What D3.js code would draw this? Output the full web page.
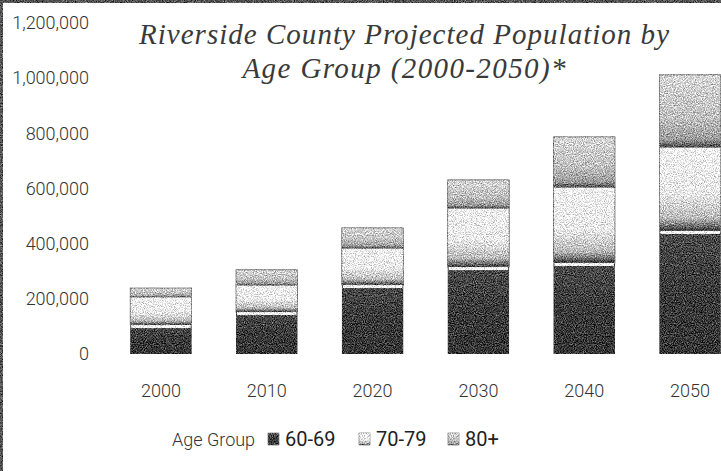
<!DOCTYPE html>
<html>
<head>
<meta charset="utf-8">
<script src="https://cdn.jsdelivr.net/npm/d3@7/dist/d3.min.js"></script>
<style>
body { margin: 0; background: #fff; }
svg { display: block; }
</style>
</head>
<body>
<svg id="chart"></svg>
<script>
var width = 721;
var height = 471;

// data
var years = ["2000", "2010", "2020", "2030", "2040", "2050"];
var ageGroups = ["60-69", "70-79", "80+"];
var pop6069 = [105000, 152000, 250000, 315000, 330000, 446000];
var pop7079 = [102000, 98000, 134000, 214000, 275000, 304000];
var pop80 = [32000, 55000, 73000, 102000, 182000, 262000];
var yTicks = [0, 200000, 400000, 600000, 800000, 1000000, 1200000];
var titleLines = ["Riverside County Projected Population by", "Age Group (2000-2050)*"];

var rows = years.map(function (y, i) {
	return {year: y, "60-69": pop6069[i], "70-79": pop7079[i], "80+": pop80[i]};
});

var labelFont = "Roboto, 'Liberation Sans', sans-serif";

var svg = d3.select("#chart")
.attr("width", width)
.attr("height", height);

var defs = svg.append("defs");

// grainy look of the scanned chart
var grain = defs.append("filter")
.attr("id", "grain")
.attr("color-interpolation-filters", "sRGB");
grain.append("feTurbulence")
.attr("type", "fractalNoise")
.attr("baseFrequency", 0.9)
.attr("numOctaves", 2)
.attr("seed", 7)
.attr("result", "noise");
grain.append("feColorMatrix")
.attr("in", "noise")
.attr("type", "matrix")
.attr("values", "1 0 0 0 0  1 0 0 0 0  1 0 0 0 0  0 0 0 0 1")
.attr("result", "gray");
grain.append("feComposite")
.attr("in", "SourceGraphic")
.attr("in2", "gray")
.attr("operator", "arithmetic")
.attr("k1", 0).attr("k2", 1).attr("k3", 1.0).attr("k4", -0.5)
.attr("result", "mix");
grain.append("feComposite")
.attr("in", "mix")
.attr("in2", "SourceGraphic")
.attr("operator", "in");

function addGradient (id, stops) {
	var g = defs.append("linearGradient")
	.attr("id", id)
	.attr("x1", 0).attr("y1", 0)
	.attr("x2", 0).attr("y2", 1);
	stops.forEach(function (s) {
		g.append("stop").attr("offset", s[0]).attr("stop-color", s[1]);
	});
}

addGradient("g6069", [[0, "#4a4a4a"], [0.5, "#3a3a3a"], [1, "#353535"]]);
addGradient("g7079", [[0, "#f4f4f4"], [0.55, "#ececec"], [0.85, "#b8b8b8"], [0.95, "#666"], [1, "#2a2a2a"]]);
addGradient("g80", [[0, "#d8d8d8"], [0.6, "#c0c0c0"], [0.9, "#9a9a9a"], [1, "#444"]]);

var fills = {"60-69": "url(#g6069)", "70-79": "url(#g7079)", "80+": "url(#g80)"};

var x = d3.scaleBand()
.domain(years)
.range([108, 743])
.paddingInner(0.42)
.paddingOuter(0.21);

var y = d3.scaleLinear()
.domain([0, 1200000])
.range([354, 23]);

// scan border on left and top
svg.append("g")
.attr("filter", "url(#grain)")
.call(function (g) {
	g.append("rect").attr("x", 0).attr("y", 0).attr("width", 3).attr("height", height).attr("fill", "#555");
	g.append("rect").attr("x", 0).attr("y", 0).attr("width", width).attr("height", 3).attr("fill", "#555");
});

// y axis
svg.append("g")
.attr("transform", "translate(91,0)")
.call(d3.axisLeft(y).tickValues(yTicks).tickSize(0).tickPadding(2).tickFormat(d3.format(",")))
.call(function (g) { g.select(".domain").remove(); })
.selectAll("text")
.style("font-family", labelFont)
.style("font-size", "18px")
.style("font-weight", 300)
.attr("fill", "#333");

// x axis
svg.append("g")
.attr("transform", "translate(0,354)")
.call(d3.axisBottom(x).tickSize(0).tickPadding(30))
.call(function (g) { g.select(".domain").remove(); })
.selectAll("text")
.style("font-family", labelFont)
.style("font-size", "18px")
.style("font-weight", 300)
.attr("fill", "#333");

// bars
var stack = d3.stack().keys(ageGroups)(rows);

var bars = svg.append("g").attr("filter", "url(#grain)");

bars.selectAll("g.series")
.data(stack)
.enter()
.append("g")
.attr("class", "series")
.each(function (s) {
	d3.select(this).selectAll("rect")
	.data(s)
	.enter()
	.append("rect")
	.attr("x", function (d) { return x(d.data.year); })
	.attr("y", function (d) { return y(d[1]); })
	.attr("width", x.bandwidth())
	.attr("height", function (d) { return y(d[0]) - y(d[1]); })
	.attr("fill", fills[s.key])
	.attr("stroke", s.key == "60-69" ? "none" : "#777")
	.attr("stroke-width", 0.8);
});

// white seam on top of the 60-69 segment
bars.selectAll("rect.seam")
.data(stack[0])
.enter()
.append("rect")
.attr("class", "seam")
.attr("x", function (d) { return x(d.data.year) + 1; })
.attr("y", function (d) { return y(d[1]); })
.attr("width", x.bandwidth() - 2)
.attr("height", 3)
.attr("fill", "#fafafa");

// title
svg.append("text")
.attr("x", 404)
.attr("text-anchor", "middle")
.style("font-family", "'Liberation Serif', 'DejaVu Serif', serif")
.style("font-style", "italic")
.style("font-size", "29px")
.attr("fill", "#3a3a3a")
.selectAll("tspan")
.data(titleLines)
.enter()
.append("tspan")
.attr("x", 404)
.attr("y", function (d, i) { return 44 + i * 34; })
.attr("textLength", function (d, i) { return i == 0 ? 530 : 323; })
.text(function (d) { return d; });

// legend
var legend = svg.append("g");

legend.append("text")
.attr("x", 172)
.attr("y", 446)
.style("font-family", labelFont)
.style("font-size", "18px")
.style("font-weight", 300)
.attr("fill", "#333")
.text("Age Group");

var legendX = [268, 359, 448];

var item = legend.selectAll("g.item")
.data(ageGroups)
.enter()
.append("g")
.attr("class", "item")
.attr("transform", function (d, i) { return "translate(" + legendX[i] + ",0)"; });

item.append("rect")
.attr("x", 0)
.attr("y", 433)
.attr("width", 11)
.attr("height", 12)
.attr("fill", function (d) { return fills[d]; })
.attr("stroke", "#888")
.attr("stroke-width", 0.6)
.attr("filter", "url(#grain)");

item.append("text")
.attr("x", 17)
.attr("y", 446)
.style("font-family", labelFont)
.style("font-size", "20px")
.attr("fill", "#222")
.text(function (d) { return d; });
</script>
</body>
</html>
